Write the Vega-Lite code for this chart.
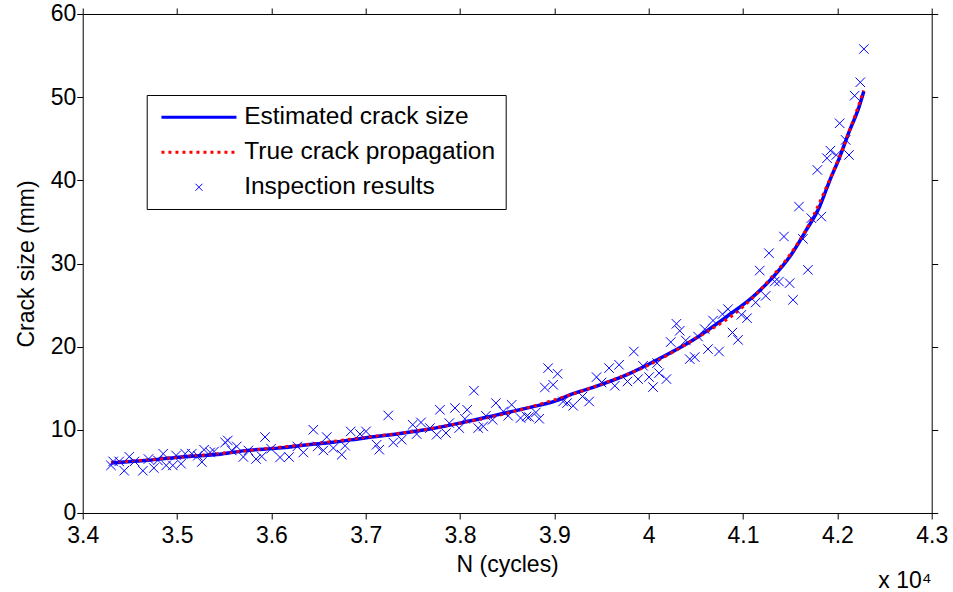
{
  "$schema": "https://vega.github.io/schema/vega-lite/v6.json",
  "width": 849,
  "height": 499,
  "autosize": {"type": "none"},
  "padding": {"left": 82.7, "top": 14, "right": 21.3, "bottom": 78.7},
  "background": "white",
  "config": {
    "font": "Liberation Sans",
    "view": {"stroke": "black", "strokeWidth": 1},
    "axis": {"grid": false, "domain": false, "ticks": true, "labelFont": "Liberation Sans", "titleFont": "Liberation Sans", "labelColor": "black", "titleColor": "black", "tickColor": "black", "labelFontSize": 23, "titleFontSize": 23, "titleFontWeight": "normal", "tickSize": 6, "tickWidth": 1}
  },
  "title": {"text": "x 10⁴", "orient": "bottom", "anchor": "end", "frame": "group", "fontSize": 23, "fontWeight": "normal", "font": "Liberation Sans", "color": "black", "offset": -7},
  "datasets": {
    "estimated": [
      {"N": 34300, "size": 6.0}, {"N": 34660, "size": 6.3}, {"N": 35015, "size": 6.7}, {"N": 35475, "size": 7.1},
      {"N": 35720, "size": 7.5}, {"N": 36075, "size": 7.8}, {"N": 36390, "size": 8.2}, {"N": 36655, "size": 8.5},
      {"N": 36975, "size": 9.0}, {"N": 37330, "size": 9.5}, {"N": 37680, "size": 10.1}, {"N": 38035, "size": 10.9},
      {"N": 38390, "size": 11.8}, {"N": 38740, "size": 12.7}, {"N": 39020, "size": 13.5}, {"N": 39165, "size": 14.2},
      {"N": 39410, "size": 15.1}, {"N": 39765, "size": 16.6}, {"N": 40120, "size": 18.6}, {"N": 40470, "size": 20.8},
      {"N": 40825, "size": 23.6}, {"N": 41105, "size": 26.0}, {"N": 41320, "size": 28.4}, {"N": 41495, "size": 30.8},
      {"N": 41670, "size": 34.0}, {"N": 41810, "size": 36.8}, {"N": 41920, "size": 40.0}, {"N": 42025, "size": 42.8},
      {"N": 42130, "size": 46.0}, {"N": 42220, "size": 48.5}, {"N": 42280, "size": 50.7}
    ],
    "truth": [
      {"N": 34300, "size": 6.1}, {"N": 34700, "size": 6.4}, {"N": 35000, "size": 6.7}, {"N": 35500, "size": 7.2},
      {"N": 36000, "size": 7.8}, {"N": 36500, "size": 8.4}, {"N": 37000, "size": 9.1}, {"N": 37500, "size": 9.8},
      {"N": 38000, "size": 10.8}, {"N": 38500, "size": 12.0}, {"N": 39000, "size": 13.6}, {"N": 39500, "size": 15.5},
      {"N": 40000, "size": 17.8}, {"N": 40500, "size": 21.0}, {"N": 41000, "size": 24.8}, {"N": 41300, "size": 28.3},
      {"N": 41500, "size": 31.1}, {"N": 41700, "size": 34.7}, {"N": 41900, "size": 39.6}, {"N": 42050, "size": 43.6},
      {"N": 42150, "size": 46.6}, {"N": 42280, "size": 50.8}
    ],
    "inspection": [
      {"N": 34300, "size": 5.72}, {"N": 34323, "size": 6.2}, {"N": 34387, "size": 6.2}, {"N": 34440, "size": 5.08},
      {"N": 34493, "size": 6.77}, {"N": 34549, "size": 6.2}, {"N": 34638, "size": 5.08}, {"N": 34697, "size": 6.49},
      {"N": 34754, "size": 5.41}, {"N": 34797, "size": 6.32}, {"N": 34853, "size": 7.13}, {"N": 34885, "size": 5.72},
      {"N": 34955, "size": 5.72}, {"N": 34990, "size": 6.92}, {"N": 35043, "size": 5.92}, {"N": 35086, "size": 7.13},
      {"N": 35157, "size": 7.13}, {"N": 35220, "size": 6.89}, {"N": 35263, "size": 6.13}, {"N": 35287, "size": 7.61},
      {"N": 35351, "size": 7.28}, {"N": 35393, "size": 7.4}, {"N": 35510, "size": 8.48}, {"N": 35538, "size": 8.72},
      {"N": 35580, "size": 7.52}, {"N": 35633, "size": 8.0}, {"N": 35703, "size": 6.73}, {"N": 35756, "size": 7.52},
      {"N": 35838, "size": 6.49}, {"N": 35898, "size": 6.8}, {"N": 35933, "size": 9.13}, {"N": 35997, "size": 7.73},
      {"N": 36092, "size": 6.68}, {"N": 36188, "size": 6.73}, {"N": 36275, "size": 8.0}, {"N": 36339, "size": 7.28},
      {"N": 36445, "size": 10.01}, {"N": 36491, "size": 8.0}, {"N": 36551, "size": 7.52}, {"N": 36587, "size": 9.13},
      {"N": 36657, "size": 7.81}, {"N": 36746, "size": 7.01}, {"N": 36781, "size": 8.09}, {"N": 36841, "size": 9.81},
      {"N": 36940, "size": 9.49}, {"N": 37003, "size": 9.81}, {"N": 37116, "size": 8.21}, {"N": 37144, "size": 7.61},
      {"N": 37239, "size": 11.73}, {"N": 37292, "size": 8.48}, {"N": 37381, "size": 8.81}, {"N": 37498, "size": 10.61},
      {"N": 37586, "size": 10.89}, {"N": 37540, "size": 9.49}, {"N": 37681, "size": 10.21}, {"N": 37752, "size": 9.41},
      {"N": 37787, "size": 12.41}, {"N": 37851, "size": 9.61}, {"N": 37886, "size": 10.81}, {"N": 37946, "size": 12.62},
      {"N": 37991, "size": 10.21}, {"N": 38076, "size": 12.41}, {"N": 38052, "size": 11.33}, {"N": 38147, "size": 14.7},
      {"N": 38193, "size": 10.21}, {"N": 38246, "size": 10.41}, {"N": 38274, "size": 11.69}, {"N": 38345, "size": 11.21},
      {"N": 38380, "size": 13.22}, {"N": 38458, "size": 12.21}, {"N": 38547, "size": 13.01}, {"N": 38510, "size": 11.69},
      {"N": 38642, "size": 11.42}, {"N": 38705, "size": 11.61}, {"N": 38733, "size": 11.54}, {"N": 38804, "size": 12.09},
      {"N": 38839, "size": 11.33}, {"N": 38899, "size": 15.09}, {"N": 38934, "size": 17.42}, {"N": 38987, "size": 15.42},
      {"N": 39034, "size": 16.74}, {"N": 39093, "size": 13.41}, {"N": 39135, "size": 13.22}, {"N": 39199, "size": 12.89},
      {"N": 39299, "size": 14.01}, {"N": 39369, "size": 13.41}, {"N": 39447, "size": 16.34}, {"N": 39500, "size": 15.69},
      {"N": 39580, "size": 17.42}, {"N": 39641, "size": 15.3}, {"N": 39686, "size": 17.82}, {"N": 39775, "size": 15.81},
      {"N": 39842, "size": 19.42}, {"N": 39888, "size": 16.1}, {"N": 39940, "size": 17.7}, {"N": 40004, "size": 16.34},
      {"N": 40046, "size": 15.14}, {"N": 40110, "size": 16.82}, {"N": 40188, "size": 16.1}, {"N": 40089, "size": 18.02},
      {"N": 40234, "size": 20.55}, {"N": 40294, "size": 22.75}, {"N": 40329, "size": 21.91}, {"N": 40393, "size": 20.74},
      {"N": 40435, "size": 18.5}, {"N": 40488, "size": 18.75}, {"N": 40523, "size": 21.22}, {"N": 40594, "size": 22.11},
      {"N": 40629, "size": 19.71}, {"N": 40682, "size": 23.14}, {"N": 40746, "size": 19.42}, {"N": 40782, "size": 23.91},
      {"N": 40841, "size": 24.51}, {"N": 40888, "size": 21.7}, {"N": 40947, "size": 20.82}, {"N": 40983, "size": 23.83},
      {"N": 41042, "size": 23.43}, {"N": 41134, "size": 25.31}, {"N": 41177, "size": 29.15}, {"N": 41240, "size": 26.11},
      {"N": 41275, "size": 31.24}, {"N": 41336, "size": 27.83}, {"N": 41381, "size": 27.83}, {"N": 41494, "size": 27.64},
      {"N": 41530, "size": 25.63}, {"N": 41434, "size": 33.24}, {"N": 41635, "size": 32.96}, {"N": 41688, "size": 29.24},
      {"N": 41593, "size": 36.84}, {"N": 41724, "size": 35.45}, {"N": 41830, "size": 35.64}, {"N": 41788, "size": 41.25},
      {"N": 41890, "size": 42.66}, {"N": 41926, "size": 43.57}, {"N": 41989, "size": 43.05}, {"N": 42024, "size": 46.86},
      {"N": 42088, "size": 44.86}, {"N": 42123, "size": 43.05}, {"N": 42183, "size": 50.18}, {"N": 42243, "size": 51.79},
      {"N": 42281, "size": 55.79}
    ]
  },
  "layer": [
    {
      "data": {"name": "estimated"},
      "mark": {"type": "line", "strokeWidth": 3.5, "interpolate": "monotone", "clip": true},
      "encoding": {
        "x": {"field": "N", "type": "quantitative", "scale": {"domain": [34000, 43000], "nice": false, "zero": false},
          "axis": {"orient": "top", "labels": false, "title": null, "values": [34000, 35000, 36000, 37000, 38000, 39000, 40000, 41000, 42000, 43000]}},
        "y": {"field": "size", "type": "quantitative", "scale": {"domain": [0, 60], "nice": false},
          "axis": {"orient": "right", "labels": false, "title": null, "values": [0, 10, 20, 30, 40, 50, 60]}},
        "color": {"datum": "Estimated crack size", "type": "nominal",
          "scale": {"domain": ["Estimated crack size", "True crack propagation", "Inspection results"], "range": ["#0000ff", "#ff0000", "#0000ff"]},
          "legend": {
            "orient": "none", "legendX": 64, "legendY": 81, "title": null,
            "strokeColor": "black", "fillColor": "white", "padding": 10, "cornerRadius": 0,
            "labelFont": "Liberation Sans", "labelFontSize": 24.5, "labelColor": "black", "labelOffset": 33, "labelLimit": 0,
            "symbolType": "stroke", "symbolSize": 5625, "symbolStrokeWidth": 3, "symbolOffset": 30, "rowPadding": 10,
            "encode": {"symbols": {"update": {
              "shape": {"signal": "datum.value === 'Inspection results' ? 'M-1,-1L1,1M1,-1L-1,1' : 'stroke'"},
              "size": {"signal": "datum.value === 'Inspection results' ? 49 : 5625"},
              "strokeWidth": {"signal": "datum.value === 'Inspection results' ? 1 : 3"},
              "strokeDash": {"signal": "datum.value === 'True crack propagation' ? [3, 4] : [1000, 0]"},
              "fill": {"value": "transparent"}
            }}}
          }}
      }
    },
    {
      "data": {"name": "truth"},
      "mark": {"type": "line", "strokeWidth": 3, "strokeDash": [3, 4], "interpolate": "monotone", "clip": true},
      "encoding": {
        "x": {"field": "N", "type": "quantitative", "axis": null},
        "y": {"field": "size", "type": "quantitative", "axis": null},
        "color": {"datum": "True crack propagation", "type": "nominal"}
      }
    },
    {
      "data": {"name": "inspection"},
      "mark": {"type": "point", "shape": "M-1,-1L1,1M1,-1L-1,1", "filled": false, "size": 90, "strokeWidth": 1, "opacity": 1, "clip": true},
      "encoding": {
        "x": {"field": "N", "type": "quantitative",
          "axis": {"orient": "bottom", "title": "N (cycles)", "titlePadding": 6, "labelPadding": 6, "values": [34000, 35000, 36000, 37000, 38000, 39000, 40000, 41000, 42000, 43000],
            "labelExpr": "format(datum.value / 10000, '.1~f')", "labelFlush": false}},
        "y": {"field": "size", "type": "quantitative",
          "axis": {"orient": "left", "title": "Crack size (mm)", "titlePadding": 12, "labelPadding": 1, "values": [0, 10, 20, 30, 40, 50, 60]}},
        "color": {"datum": "Inspection results", "type": "nominal"}
      }
    }
  ],
  "resolve": {"axis": {"x": "independent", "y": "independent"}}
}
